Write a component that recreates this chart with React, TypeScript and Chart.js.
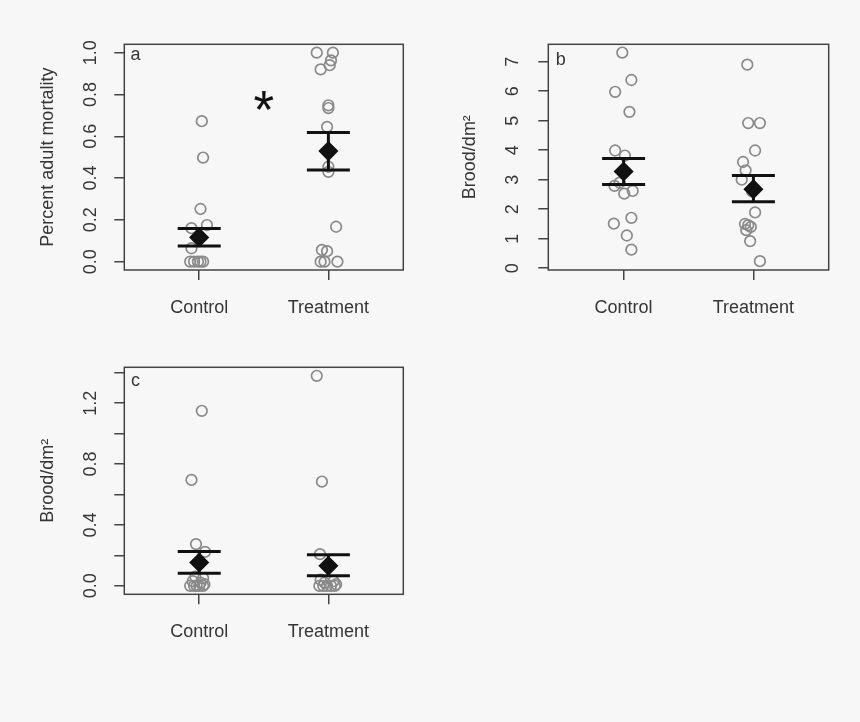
import React, { useEffect, useRef } from 'react';
import { Chart, registerables } from 'chart.js';

Chart.register(...registerables);

const FONT = "'Liberation Sans', Arial, Helvetica, sans-serif";
const TEXT = '#363636';
const AXIS = '#444444';
const OPEN = '#8a8a8a';
const DARK = '#111111';

// ---- shared categories ----
const groups = ['Control', 'Treatment'];
const groupX = [1, 2];

// ---- panel a : Percent adult mortality ----
const aControlX = [1.02, 1.03, 1.01, 1.06, 0.94, 0.94, 1.0, 0.93, 0.96, 0.99, 1.01, 1.03];
const aControlY = [0.672, 0.498, 0.252, 0.175, 0.16, 0.064, 0.12, 0, 0, 0, 0, 0];
const aTreatX = [1.91, 2.035, 2.02, 2.01, 1.94, 2.0, 2.0, 1.99, 2.0, 2.0, 2.06, 1.95, 1.99, 1.94, 1.97, 2.07];
const aTreatY = [1.0, 1.0, 0.963, 0.94, 0.92, 0.748, 0.735, 0.645, 0.454, 0.43, 0.167, 0.056, 0.05, 0, 0, 0];
const aMean = [0.116, 0.529];
const aSeLow = [0.075, 0.438];
const aSeHigh = [0.158, 0.618];
const aYTicks = [0, 0.2, 0.4, 0.6, 0.8, 1.0];
const aYTickLabels = ['0.0', '0.2', '0.4', '0.6', '0.8', '1.0'];
const aStar = { x: 1.5, y: 0.766, text: '*' };

// ---- panel b : Brood/dm2 ----
const bControlX = [0.99, 1.06, 0.935, 1.045, 0.935, 1.01, 0.93, 1.005, 1.07, 0.97, 1.06, 0.925, 1.025, 1.06];
const bControlY = [7.31, 6.38, 5.98, 5.3, 3.99, 3.82, 2.79, 2.53, 2.62, 2.9, 1.71, 1.51, 1.11, 0.63];
const bTreatX = [1.953, 1.96, 2.05, 2.013, 1.92, 1.94, 1.91, 2.013, 1.935, 1.96, 1.98, 1.945, 1.975, 2.05, 1.99];
const bTreatY = [6.9, 4.92, 4.92, 3.99, 3.6, 3.32, 3.0, 1.89, 1.5, 1.46, 1.4, 1.29, 0.92, 0.24, 2.6];
const bMean = [3.28, 2.68];
const bSeLow = [2.84, 2.25];
const bSeHigh = [3.72, 3.14];
const bYTicks = [0, 1, 2, 3, 4, 5, 6, 7];
const bYTickLabels = ['0', '1', '2', '3', '4', '5', '6', '7'];

// ---- panel c : Brood/dm2 ----
const cControlX = [1.02, 0.94, 0.975, 1.045, 0.97, 1.03, 0.95, 1.01, 1.04, 0.93, 0.98, 1.0, 1.03, 0.96];
const cControlY = [1.15, 0.696, 0.274, 0.223, 0.06, 0.05, 0.03, 0.02, 0.01, 0, 0, 0, 0, 0];
const cTreatX = [1.91, 1.95, 1.935, 1.94, 2.04, 1.97, 2.06, 1.93, 1.99, 2.02, 2.05, 1.96];
const cTreatY = [1.38, 0.685, 0.208, 0.04, 0.03, 0.02, 0.01, 0, 0, 0, 0, 0];
const cMean = [0.153, 0.131];
const cSeLow = [0.083, 0.066];
const cSeHigh = [0.225, 0.204];
const cYTicks = [0, 0.2, 0.4, 0.6, 0.8, 1.0, 1.2, 1.4];
const cYTickLabels = ['0.0', '', '0.4', '', '0.8', '', '1.2', ''];

type Spec = {
  ctrlX: number[]; ctrlY: number[]; trtX: number[]; trtY: number[];
  mean: number[]; lo: number[]; hi: number[];
  yMin: number; yMax: number; yTicks: number[]; yTickLabels: string[];
  yTitle: string; letter: string; letterDX: number; letterDY: number;
  padTop: number; padRight: number; yAxisWidth: number; xAxisHeight: number;
  yTickPad: number; yTitlePad: number;
  star?: { x: number; y: number; text: string };
};

function buildConfig(s: Spec): any {
  const pts = (xs: number[], ys: number[]) => xs.map((x, i) => ({ x, y: ys[i] }));
  const openStyle = {
    pointStyle: 'circle',
    pointRadius: 5.3,
    borderWidth: 1.7,
    borderColor: OPEN,
    backgroundColor: 'rgba(0,0,0,0)',
    showLine: false,
    order: 5,
  };
  const datasets: any[] = [
    { ...openStyle, data: pts(s.ctrlX, s.ctrlY) },
    { ...openStyle, data: pts(s.trtX, s.trtY) },
  ];
  groupX.forEach((gx, i) => {
    datasets.push({
      data: [{ x: gx, y: s.lo[i] }, { x: gx, y: s.hi[i] }],
      showLine: true,
      pointRadius: 0,
      borderWidth: 3,
      borderColor: DARK,
      order: 3,
    });
  });
  datasets.push({
    data: groupX.flatMap((gx, i) => [{ x: gx, y: s.lo[i] }, { x: gx, y: s.hi[i] }]),
    showLine: false,
    pointStyle: 'line',
    pointRadius: 21.5,
    borderWidth: 3,
    borderColor: DARK,
    order: 2,
  });
  datasets.push({
    data: groupX.map((gx, i) => ({ x: gx, y: s.mean[i] })),
    showLine: false,
    pointStyle: 'rectRot',
    pointRadius: 9,
    borderWidth: 1.5,
    borderColor: DARK,
    backgroundColor: DARK,
    order: 1,
  });

  const tickFont = { family: FONT, size: 18 };
  const gridOpts = { drawOnChartArea: false, drawTicks: true, tickLength: 10, color: AXIS, lineWidth: 1.5 };

  const framePlugin = {
    id: 'frame',
    afterDraw(chart: any) {
      const { ctx, chartArea } = chart;
      const { left, top, right, bottom } = chartArea;
      ctx.save();
      ctx.strokeStyle = AXIS;
      ctx.lineWidth = 1.5;
      ctx.strokeRect(left, top, right - left, bottom - top);
      ctx.fillStyle = TEXT;
      ctx.font = `18px ${FONT}`;
      ctx.textAlign = 'left';
      ctx.textBaseline = 'alphabetic';
      ctx.fillText(s.letter, left + s.letterDX, top + s.letterDY);
      if (s.star) {
        const sx = chart.scales.x.getPixelForValue(s.star.x);
        const sy = chart.scales.y.getPixelForValue(s.star.y);
        const size = 53;
        ctx.font = `${size}px ${FONT}`;
        ctx.fillStyle = DARK;
        ctx.textAlign = 'center';
        ctx.fillText(s.star.text, sx, sy + size * 0.5);
      }
      ctx.restore();
    },
  };

  return {
    type: 'scatter',
    data: { datasets },
    options: {
      animation: false,
      responsive: false,
      events: [],
      layout: { padding: { left: 0, top: s.padTop, right: s.padRight, bottom: 0 } },
      plugins: { legend: { display: false }, tooltip: { enabled: false } },
      scales: {
        x: {
          type: 'linear',
          min: 0.42,
          max: 2.58,
          afterBuildTicks: (sc: any) => { sc.ticks = groupX.map((v) => ({ value: v })); },
          afterFit: (sc: any) => { sc.height = s.xAxisHeight; },
          ticks: {
            callback: (_v: any, i: number) => groups[i],
            autoSkip: false,
            minRotation: 0,
            maxRotation: 0,
            padding: 17,
            color: TEXT,
            font: tickFont,
          },
          grid: gridOpts,
          border: { display: false },
        },
        y: {
          type: 'linear',
          min: s.yMin,
          max: s.yMax,
          afterBuildTicks: (sc: any) => { sc.ticks = s.yTicks.map((v) => ({ value: v })); },
          afterFit: (sc: any) => { sc.width = s.yAxisWidth; },
          ticks: {
            callback: (_v: any, i: number) => s.yTickLabels[i],
            autoSkip: false,
            minRotation: 90,
            maxRotation: 90,
            crossAlign: 'center',
            padding: s.yTickPad,
            color: TEXT,
            font: tickFont,
          },
          grid: gridOpts,
          border: { display: false },
          title: {
            display: true,
            text: s.yTitle,
            color: TEXT,
            font: { family: FONT, size: 18 },
            padding: { top: s.yTitlePad, bottom: 0 },
          },
        },
      },
    },
    plugins: [framePlugin],
  };
}

const specA: Spec = {
  ctrlX: aControlX, ctrlY: aControlY, trtX: aTreatX, trtY: aTreatY,
  mean: aMean, lo: aSeLow, hi: aSeHigh,
  yMin: -0.04, yMax: 1.04, yTicks: aYTicks, yTickLabels: aYTickLabels,
  yTitle: 'Percent adult mortality', letter: 'a', letterDX: 6.3, letterDY: 15.5,
  padTop: 44.3, padRight: 26.7, yAxisWidth: 124.3, xAxisHeight: 60,
  yTickPad: 10.3, yTitlePad: 37.2, star: aStar,
};

const specB: Spec = {
  ctrlX: bControlX, ctrlY: bControlY, trtX: bTreatX, trtY: bTreatY,
  mean: bMean, lo: bSeLow, hi: bSeHigh,
  yMin: -0.06, yMax: 7.59, yTicks: bYTicks, yTickLabels: bYTickLabels,
  yTitle: 'Brood/dm\u00B2', letter: 'b', letterDX: 7.5, letterDY: 20.4,
  padTop: 44.3, padRight: 31.3, yAxisWidth: 118.3, xAxisHeight: 60,
  yTickPad: 20, yTitlePad: 29.2,
};

const specC: Spec = {
  ctrlX: cControlX, ctrlY: cControlY, trtX: cTreatX, trtY: cTreatY,
  mean: cMean, lo: cSeLow, hi: cSeHigh,
  yMin: -0.056, yMax: 1.436, yTicks: cYTicks, yTickLabels: cYTickLabels,
  yTitle: 'Brood/dm\u00B2', letter: 'c', letterDX: 6.7, letterDY: 19.1,
  padTop: 37.3, padRight: 26.7, yAxisWidth: 124.3, xAxisHeight: 127.7,
  yTickPad: 10.3, yTitlePad: 37.5,
};

function Panel({ spec, left, top, width, height }: { spec: Spec; left: number; top: number; width: number; height: number }) {
  const ref = useRef<HTMLCanvasElement | null>(null);
  useEffect(() => {
    if (!ref.current) return;
    const chart = new Chart(ref.current, buildConfig(spec));
    return () => chart.destroy();
  }, [spec]);
  return (
    <canvas
      ref={ref}
      width={width}
      height={height}
      style={{ position: 'absolute', left, top, width, height, display: 'block' }}
    />
  );
}

export default function App() {
  return (
    <div style={{ position: 'absolute', left: 0, top: 0, width: 860, height: 722, background: '#f7f7f7', overflow: 'hidden' }}>
      <Panel spec={specA} left={0} top={0} width={430} height={330} />
      <Panel spec={specB} left={430} top={0} width={430} height={330} />
      <Panel spec={specC} left={0} top={330} width={430} height={392} />
    </div>
  );
}
